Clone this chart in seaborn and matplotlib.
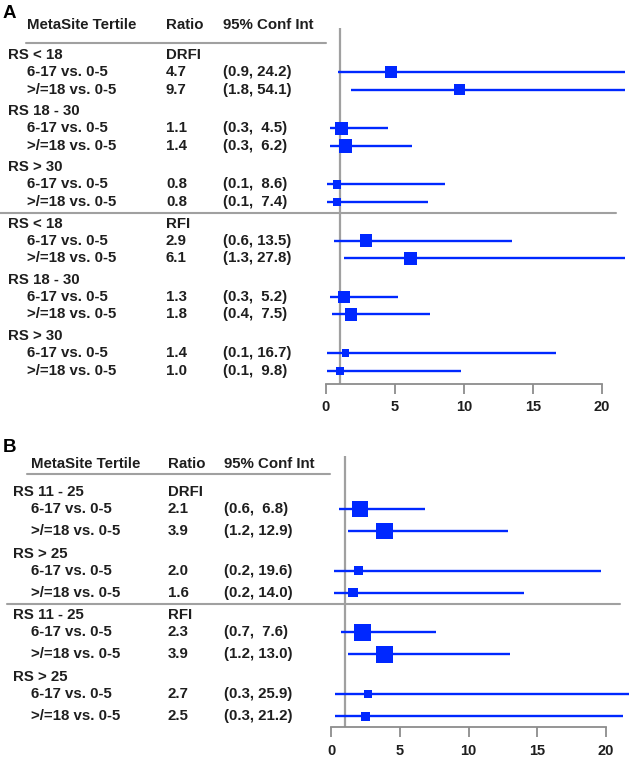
import matplotlib
matplotlib.use("Agg")

import matplotlib.pyplot as plt
import matplotlib.transforms as mtransforms
import seaborn as sns
import pandas as pd

sns.set_style("white")
plt.rcParams["font.family"] = ["Liberation Sans", "DejaVu Sans"]

W, H = 632, 759

# -------------------------
# data
# -------------------------

outcomes = ["DRFI", "RFI"]
comparisons = ["6-17 vs. 0-5", ">/=18 vs. 0-5"]
header = ["MetaSite Tertile", "Ratio", "95% Conf Int"]
xticks = [0, 5, 10, 15, 20]

a_groups = ["RS < 18", "RS 18 - 30", "RS > 30"]
a_ratio = [4.7, 9.7, 1.1, 1.4, 0.8, 0.8, 2.9, 6.1, 1.3, 1.8, 1.4, 1.0]
a_lo = [0.9, 1.8, 0.3, 0.3, 0.1, 0.1, 0.6, 1.3, 0.3, 0.4, 0.1, 0.1]
a_hi = [24.2, 54.1, 4.5, 6.2, 8.6, 7.4, 13.5, 27.8, 5.2, 7.5, 16.7, 9.8]
a_weight = [11, 10.7, 12.3, 12.7, 8, 8, 12.3, 12.3, 11.7, 11.7, 7, 7.3]

b_groups = ["RS 11 - 25", "RS > 25"]
b_ratio = [2.1, 3.9, 2.0, 1.6, 2.3, 3.9, 2.7, 2.5]
b_lo = [0.6, 1.2, 0.2, 0.2, 0.7, 1.2, 0.3, 0.3]
b_hi = [6.8, 12.9, 19.6, 14.0, 7.6, 13.0, 25.9, 21.2]
b_weight = [16, 16, 8.7, 8.7, 16, 16, 8, 8.7]

BLUE = "#0028ff"
GRAY = "#a0a0a0"
TXT = "#1e1e1e"
FS = 10.8

fig = plt.figure(figsize=(W / 100, H / 100), dpi=100)

# pixel coordinates from the top left corner
pix = mtransforms.Affine2D().scale(1 / W, -1 / H).translate(0, 1) + fig.transFigure


def fmt_ci(lo, hi):
    pad = "  " if hi < 10 else " "
    return f"({lo:.1f},{pad}{hi:.1f})"


def draw_panel(label, groups, ratio, lo, hi, weight, cfg):

    zero, scale = cfg["zero"], cfg["scale"]
    xmin, xmax = -0.5, 21.7
    left = zero + xmin * scale
    width = (xmax - xmin) * scale
    top, bottom = cfg["top"], cfg["bottom"]

    ax = fig.add_axes([left / W, 1 - bottom / H, width / W, (bottom - top) / H])

    # row layout
    s_head, s_sub, s_next = cfg["steps"]
    y = cfg["start"]
    rows = []
    heads = []
    k = 0
    for oi, outcome in enumerate(outcomes):
        for gi, g in enumerate(groups):
            heads.append((y, g, outcome if gi == 0 else ""))
            y += s_head
            for ci, comp in enumerate(comparisons):
                rows.append({"y": y, "comp": comp, "ratio": ratio[k], "lo": lo[k],
                             "hi": hi[k], "w": weight[k], "outcome": outcome})
                k += 1
                y += s_sub if ci == 0 else s_next

    df = pd.DataFrame(rows)

    # confidence intervals and squares
    ax.hlines(df["y"], df["lo"], df["hi"], color=BLUE, lw=1.7, zorder=2)
    sizes = {w: (w * 0.75) ** 2 for w in df["w"].unique()}
    sns.scatterplot(data=df, x="ratio", y="y", size="w", sizes=sizes, marker="s",
                    color=BLUE, linewidth=0, legend=False, ax=ax, zorder=3)

    ax.axvline(1, color=GRAY, lw=1.6, zorder=1)

    ax.set_xlim(xmin, xmax)
    ax.set_ylim(bottom, top)
    ax.set_xticks(xticks)
    ax.set_yticks([])
    ax.set_xlabel("")
    ax.set_ylabel("")
    for side in ["left", "right", "top"]:
        ax.spines[side].set_visible(False)
    ax.spines["bottom"].set_bounds(0, 20)
    ax.spines["bottom"].set_color("#8c8c8c")
    ax.spines["bottom"].set_linewidth(1.3)
    ax.tick_params(axis="x", bottom=True, direction="out", length=7, width=1.3,
                   color="#8c8c8c", labelsize=10.5, pad=cfg["pad"], labelcolor=TXT)
    for t in ax.get_xticklabels():
        t.set_fontweight("bold")

    # table text
    cx = cfg["cols"]
    tk = dict(transform=pix, fontsize=FS, fontweight="bold", color=TXT, va="center")
    fig.text(3, cfg["label_y"], label, transform=pix, fontsize=13.5,
             fontweight="bold", color="black", va="center")
    for txt, xp in zip(header, [cx[1], cx[2], cx[3]]):
        fig.text(xp, cfg["header_y"], txt, **tk)
    fig.add_artist(plt.Line2D([cfg["hline"][0], cfg["hline"][1]],
                              [cfg["hline"][2]] * 2, transform=pix,
                              color=GRAY, lw=1.5))

    for yy, g, outc in heads:
        fig.text(cx[0], yy, g, **tk)
        if outc:
            fig.text(cx[2], yy, outc, **tk)
    for _, r in df.iterrows():
        fig.text(cx[1], r["y"], r["comp"], **tk)
        fig.text(cx[2], r["y"], f"{r['ratio']:.1f}", **tk)
        fig.text(cx[3], r["y"], fmt_ci(r["lo"], r["hi"]), **tk)

    # separator between outcomes
    n = len(groups) * len(comparisons)
    sep_y = (df["y"].iloc[n - 1] + heads[len(groups)][0]) / 2
    fig.add_artist(plt.Line2D([cfg["sep"][0], cfg["sep"][1]], [sep_y] * 2,
                              transform=pix, color=GRAY, lw=1.5))
    return ax


draw_panel("A", a_groups, a_ratio, a_lo, a_hi, a_weight, {
    "zero": 326, "scale": 13.8, "top": 28, "bottom": 384,
    "start": 55, "steps": (17, 17.7, 21.5),
    "cols": (8, 27, 166, 223), "header_y": 25, "label_y": 13,
    "hline": (26, 326, 42.5), "sep": (0, 616), "pad": 4.5,
})

draw_panel("B", b_groups, b_ratio, b_lo, b_hi, b_weight, {
    "zero": 331, "scale": 13.75, "top": 456, "bottom": 727,
    "start": 492, "steps": (17, 22, 22.7),
    "cols": (13, 31, 168, 224), "header_y": 464, "label_y": 448,
    "hline": (27, 330, 474), "sep": (7, 620), "pad": 5,
})

fig.savefig("out.png", dpi=100)
plt.close(fig)
